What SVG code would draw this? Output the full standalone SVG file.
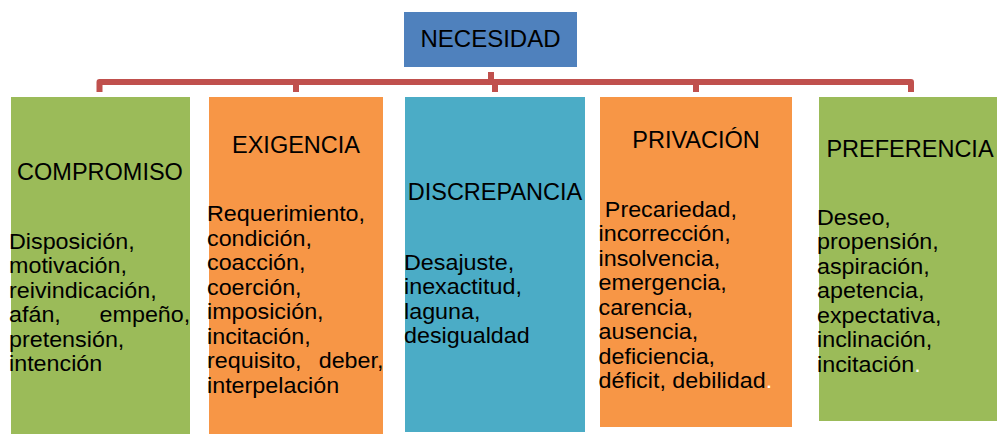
<svg xmlns="http://www.w3.org/2000/svg" width="997" height="434" viewBox="0 0 997 434">
<style>
text{font-family:"Liberation Sans",Arial,sans-serif;fill:#000}
.t{font-size:23.5px;text-anchor:middle}
.b{font-size:22px}
.e{text-anchor:end}
.w{fill:#fff}
.c{fill:none;stroke:#C0504D;stroke-width:6;stroke-linejoin:round}
</style>
<rect width="997" height="434" fill="#fff"/>
<g id="connectors">
<path class="c" d="M491,72 V82 H99.5 V92"/>
<path class="c" d="M491,72 V82 H296 V92"/>
<path class="c" d="M491,72 V82 H495 V92"/>
<path class="c" d="M491,72 V82 H696 V92"/>
<path class="c" d="M491,72 V82 H911 V92"/>
</g>
<g id="necesidad">
<rect x="404" y="12" width="173" height="55" fill="#4F81BD"/>
<text class="t" x="490.5" y="46.7" style="font-size:24px">NECESIDAD</text>
</g>
<g id="compromiso">
<rect x="11" y="97" width="179" height="340" fill="#9BBB59"/>
<text class="t" x="100" y="180">COMPROMISO</text>
<g class="b" transform="translate(9,0) scale(1.06,1)">
<text class="b" x="0" y="249">Disposición,</text>
<text class="b" x="0" y="273.5">motivación,</text>
<text class="b" x="0" y="298">reivindicación,</text>
<text class="b" x="0" y="322.5">afán,</text>
<text class="b e" x="171" y="322.5">empeño,</text>
<text class="b" x="0" y="347">pretensión,</text>
<text class="b" x="0" y="371.5">intención</text>
</g>
</g>
<g id="exigencia">
<rect x="209" y="97" width="174" height="340" fill="#F79646"/>
<text class="t" x="296" y="153">EXIGENCIA</text>
<g transform="translate(207,0) scale(1.06,1)">
<text class="b" x="0" y="221.5">Requerimiento,</text>
<text class="b" x="0" y="246">condición,</text>
<text class="b" x="0" y="270.5">coacción,</text>
<text class="b" x="0" y="295">coerción,</text>
<text class="b" x="0" y="319.5">imposición,</text>
<text class="b" x="0" y="344">incitación,</text>
<text class="b" x="0" y="368.5">requisito,</text>
<text class="b e" x="166.5" y="368.5">deber,</text>
<text class="b" x="0" y="393">interpelación</text>
</g>
</g>
<g id="discrepancia">
<rect x="405" y="97" width="180" height="335" fill="#4BACC6"/>
<text class="t" x="495" y="200">DISCREPANCIA</text>
<g transform="translate(404,0) scale(1.06,1)">
<text class="b" x="0" y="270">Desajuste,</text>
<text class="b" x="0" y="294.5">inexactitud,</text>
<text class="b" x="0" y="319">laguna,</text>
<text class="b" x="0" y="343.5">desigualdad</text>
</g>
</g>
<g id="privacion">
<rect x="600" y="97" width="192" height="330" fill="#F79646"/>
<text class="t" x="696" y="148">PRIVACIÓN</text>
<g transform="translate(598.5,0) scale(1.06,1)">
<text class="b" x="6" y="217">Precariedad,</text>
<text class="b" x="0" y="241.5">incorrección,</text>
<text class="b" x="0" y="266">insolvencia,</text>
<text class="b" x="0" y="290.5">emergencia,</text>
<text class="b" x="0" y="315">carencia,</text>
<text class="b" x="0" y="339.5">ausencia,</text>
<text class="b" x="0" y="364">deficiencia,</text>
<text class="b" x="0" y="388.5">déficit, debilidad<tspan class="w">.</tspan></text>
</g>
</g>
<g id="preferencia">
<rect x="819" y="97" width="182" height="324" fill="#9BBB59"/>
<text class="t" x="910" y="157">PREFERENCIA</text>
<g transform="translate(817,0) scale(1.06,1)">
<text class="b" x="0" y="225">Deseo,</text>
<text class="b" x="0" y="249.5">propensión,</text>
<text class="b" x="0" y="274">aspiración,</text>
<text class="b" x="0" y="298.5">apetencia,</text>
<text class="b" x="0" y="323">expectativa,</text>
<text class="b" x="0" y="347.5">inclinación,</text>
<text class="b" x="0" y="372">incitación<tspan class="w">.</tspan></text>
</g>
</g>
</svg>
